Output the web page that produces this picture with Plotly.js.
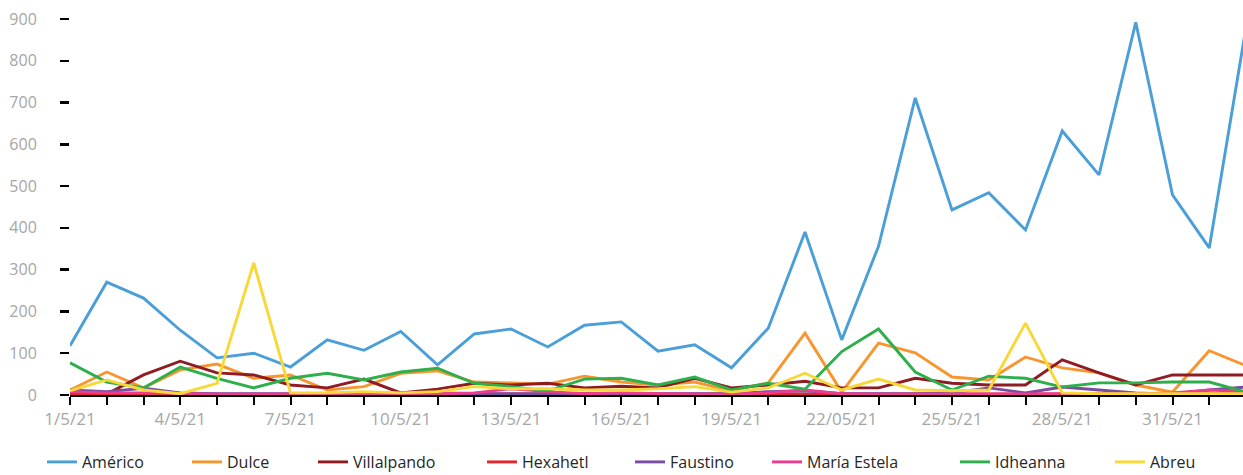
<!DOCTYPE html>
<html>
<head>
<meta charset="utf-8">
<script src="https://cdn.plot.ly/plotly-3.0.1.min.js"></script>
<style>
  html, body { margin: 0; padding: 0; background: #ffffff; }
  #chart { width: 1243px; height: 475px; }
</style>
</head>
<body>
<div id="chart"></div>
<script>
// ---- Data ----
const dates = [
  '2021-05-01','2021-05-02','2021-05-03','2021-05-04','2021-05-05','2021-05-06','2021-05-07',
  '2021-05-08','2021-05-09','2021-05-10','2021-05-11','2021-05-12','2021-05-13','2021-05-14',
  '2021-05-15','2021-05-16','2021-05-17','2021-05-18','2021-05-19','2021-05-20','2021-05-21',
  '2021-05-22','2021-05-23','2021-05-24','2021-05-25','2021-05-26','2021-05-27','2021-05-28',
  '2021-05-29','2021-05-30','2021-05-31','2021-06-01','2021-06-02'
];
const tickLabels = ['1/5/21','4/5/21','7/5/21','10/5/21','13/5/21','16/5/21','19/5/21','22/05/21','25/5/21','28/5/21','31/5/21'];
const yTicks = [0,100,200,300,400,500,600,700,800,900];

const seriesNames = ['Américo','Dulce','Villalpando','Hexahetl','Faustino','María Estela','Idheanna','Abreu'];

const americo     = [118,270,232,155,89,100,67,132,107,152,72,146,158,115,167,175,105,120,65,160,390,132,356,711,443,484,395,632,527,892,479,352,880];
const dulce       = [12,55,17,60,74,40,48,12,20,52,58,31,29,26,45,31,24,31,10,29,148,7,124,101,43,36,91,65,53,24,7,106,70];
const villalpando = [5,2,48,81,53,48,24,17,38,5,14,28,24,28,17,21,17,40,17,24,33,17,17,40,28,24,24,84,53,24,48,48,48];
const hexahetl    = [3,2,2,2,2,2,2,2,2,2,2,2,2,2,2,2,2,2,2,2,3,2,2,2,2,2,2,2,2,2,3,3,4];
const faustino    = [12,8,16,5,3,3,3,3,3,3,5,3,3,3,3,3,3,3,3,8,10,3,3,3,5,17,5,19,12,5,2,12,19];
const mariaEstela = [8,5,5,3,2,2,2,2,2,2,3,5,15,8,3,5,3,2,2,5,12,3,2,2,2,2,2,3,2,3,5,12,8];
const idheanna    = [77,31,17,67,40,17,40,52,36,55,64,28,20,10,38,40,24,43,12,28,14,104,158,55,12,45,40,19,29,29,31,31,7];
const abreu       = [10,36,12,3,28,316,5,5,8,5,8,20,15,15,12,12,15,20,7,17,52,12,38,12,10,12,172,5,3,3,3,3,3];

const seriesValues = [americo, dulce, villalpando, hexahetl, faustino, mariaEstela, idheanna, abreu];
const seriesColors = ['#4a9fd8','#f7962f','#8e1c22','#e8242b','#7a4da0','#ec3c8f','#2db04b','#f8d838'];

// ---- Layout helpers ----
const PLOT_LEFT = 70, PLOT_RIGHT = 1243, PLOT_TOP = 10, PLOT_BOTTOM = 395;
const plotW = PLOT_RIGHT - PLOT_LEFT, plotH = PLOT_BOTTOM - PLOT_TOP;
const dayMs = 86400000;
const startMs = Date.parse(dates[0] + 'T00:00:00Z');
const pxPerDay = 36.75;
const endMs = startMs + (plotW / pxPerDay) * dayMs;
function iso(ms) { return new Date(ms).toISOString().replace('T',' ').replace('Z','').slice(0,23); }

const tickDates = dates.filter((d, i) => i % 3 === 0);

// legend text start x (px) for each entry
const legendTextX = [82, 227, 353, 522, 670, 807, 995, 1150];
const legendY = 462;

const traces = seriesNames.map((name, i) => ({
  type: 'scatter',
  mode: 'lines',
  name: name,
  x: dates,
  y: seriesValues[i],
  line: { color: seriesColors[i], width: 2.9 },
  legend: i === 0 ? 'legend' : 'legend' + (i + 1),
  hoverinfo: 'x+y+name'
}));

const layout = {
  width: 1243,
  height: 475,
  margin: { l: PLOT_LEFT, r: 1243 - PLOT_RIGHT, t: PLOT_TOP, b: 475 - PLOT_BOTTOM, pad: 0, autoexpand: false },
  paper_bgcolor: '#ffffff',
  plot_bgcolor: '#ffffff',
  font: { family: 'Open Sans, sans-serif', size: 16, color: '#a6a6a6' },
  showlegend: true,
  xaxis: {
    type: 'date',
    range: [iso(startMs), iso(endMs)],
    tickmode: 'array',
    tickvals: tickDates,
    ticktext: tickLabels,
    ticks: 'outside',
    ticklen: 8,
    tickwidth: 2,
    tickcolor: '#000000',
    minor: { tickmode: 'linear', tick0: dates[0], dtick: dayMs, ticks: 'outside', ticklen: 8, tickwidth: 2, tickcolor: '#000000', showgrid: false },
    showline: true,
    linecolor: '#000000',
    linewidth: 2,
    showgrid: false,
    zeroline: false,
    automargin: false,
    tickfont: { family: 'Open Sans, sans-serif', size: 17, color: '#a6a6a6' },
    fixedrange: true
  },
  yaxis: {
    range: [0, plotH / 0.4178],
    tickmode: 'array',
    tickvals: yTicks,
    ticks: 'outside',
    ticklen: 9,
    tickwidth: 2.5,
    tickcolor: '#000000',
    ticklabelstandoff: 20,
    showline: false,
    showgrid: false,
    zeroline: false,
    automargin: false,
    tickfont: { family: 'Open Sans, sans-serif', size: 16, color: '#a6a6a6' },
    fixedrange: true
  }
};

seriesNames.forEach((name, i) => {
  const key = i === 0 ? 'legend' : 'legend' + (i + 1);
  layout[key] = {
    x: (legendTextX[i] - 40 - PLOT_LEFT) / plotW,
    xanchor: 'left',
    y: (PLOT_BOTTOM - legendY) / plotH,
    yanchor: 'middle',
    orientation: 'h',
    maxheight: 120,
    bgcolor: 'rgba(0,0,0,0)',
    borderwidth: 0,
    font: { family: 'Open Sans, sans-serif', size: 16, color: '#262626' }
  };
});

Plotly.newPlot('chart', traces, layout, { displayModeBar: false, staticPlot: true });
</script>
</body>
</html>
